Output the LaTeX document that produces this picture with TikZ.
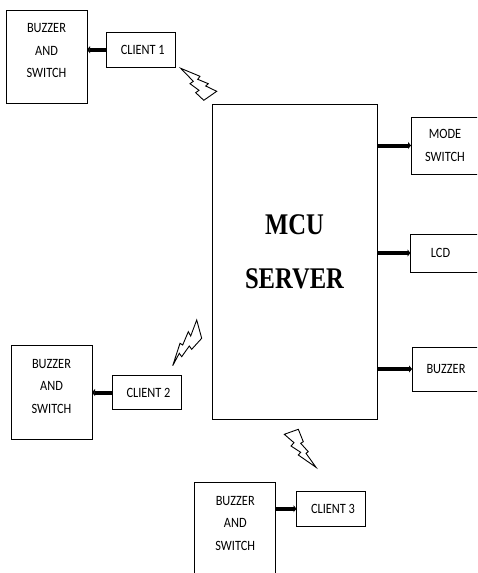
\documentclass[tikz,border=0pt]{standalone}
\usepackage{fontspec}
\setmainfont{Carlito}[FakeStretch=0.87]
\newfontfamily\titlefont{Liberation Serif}[FakeStretch=0.82]
\usetikzlibrary{arrows.meta}
\begin{document}
\begin{tikzpicture}[
  x=1pt, y=-1pt, font=\fontsize{14.2}{22.5}\selectfont,
  box/.style={draw=black,line width=0.9pt,align=center,inner sep=0pt,outer sep=0pt},
  bs/.style={box,minimum width=81pt},
  client/.style={box,minimum width=69pt,minimum height=34.5pt},
  outbox/.style={box,minimum width=68pt},
  link/.style={-{Triangle[length=3pt,width=7pt]},line width=4pt,black},
  bolt/.style={draw=black,line width=0.9pt,line join=miter}]

\clip (0,0) rectangle (477,573);

\node[bs,minimum height=93pt] (bs1) at (46.5,56.5) {BUZZER\\AND\\SWITCH\\[-10.5pt]};
\node[client] (client1) at (140.75,49.75) {\hspace*{4pt}CLIENT 1};
\draw[link] (client1.west) -- (client1.west -| bs1.east);

\node[bs,minimum height=94pt] (bs2) at (51.5,392) {BUZZER\\AND\\SWITCH\\[-10.5pt]};
\node[client] (client2) at (146.5,392.5) {\hspace*{4pt}CLIENT 2};
\draw[link] (client2.west) -- (client2.west -| bs2.east);

\node[bs,minimum height=108pt] (bs3) at (235.25,536) {BUZZER\\AND\\SWITCH\\[3.5pt]};
\node[client] (client3) at (331,508.75) {\hspace*{4pt}CLIENT 3};
\draw[link] (bs3.east |- client3.west) -- (client3.west);

% server and its outputs
\node[box,minimum width=165pt,minimum height=315pt,font=\titlefont\bfseries\fontsize{30}{54}\selectfont] (server) at (294.5,261.5) {MCU\\SERVER\\[-35pt]};

\node[outbox,minimum height=57pt] (mode) at (445,145.5) {MODE\\SWITCH};
\node[outbox,minimum height=38pt] (lcd) at (444.5,253) {\hspace*{-8pt}LCD};
\node[outbox,minimum height=44pt] (buzzer) at (446,369) {BUZZER};
\draw[link] (server.east |- mode.west) -- (mode.west);
\draw[link] (server.east |- lcd.west) -- (lcd.west);
\draw[link] (server.east |- buzzer.west) -- (buzzer.west);

% radio links
\draw[bolt] (180.7,68.3) -- (200,76.3) -- (197.7,79.3) -- (208.3,83.7) -- (205.7,86) -- (216.7,91.3) -- (203.8,100.3) -- (195.7,92.7) -- (199,90.3) -- (190,83.7) -- (193.3,81.3) -- cycle;
\draw[bolt] (172.7,365.7) -- (180,343.3) -- (182.7,345) -- (188.3,331.7) -- (190.7,336) -- (196.7,320) -- (201.7,338.3) -- (191.7,349.3) -- (189.3,346) -- (181.7,356.7) -- (179.3,353.3) -- cycle;
\draw[bolt] (284.3,434.3) -- (298.3,429.3) -- (303.3,441.7) -- (300.7,443.3) -- (308.3,451.7) -- (306,453.3) -- (316,467.3) -- (298.3,455) -- (300.7,452.3) -- (291,446) -- (294,442.7) -- cycle;
\end{tikzpicture}
\end{document}
